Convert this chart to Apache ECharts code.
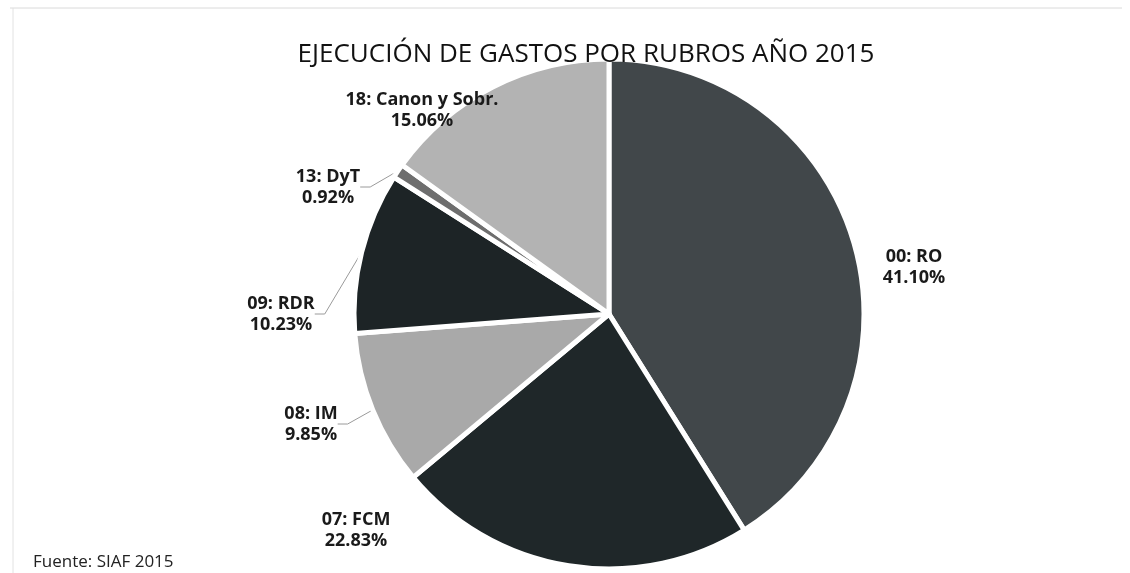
<!DOCTYPE html>
<html lang="es">
<head>
    <meta charset="UTF-8">
    <title>Ejecución de gastos por rubros 2015</title>
    <script src="https://cdn.jsdelivr.net/npm/echarts@6/dist/echarts.min.js"></script>
    <style>
        html, body { margin: 0; padding: 0; background: #fff; }
        #chart { width: 1130px; height: 573px; }
    </style>
</head>
<body>
    <div id="chart"></div>
    <script>
        // datos (porcentajes)
        const rubros = ['00: RO', '07: FCM', '08: IM', '09: RDR', '13: DyT', '18: Canon y Sobr.'];
        const porcentajes = [41.10, 22.83, 9.85, 10.23, 0.92, 15.06];
        const colores = ['#41474a', '#1f2729', '#a9a9a9', '#1d2426', '#6e6e6e', '#b3b3b3'];
        const sinLinea = ['00: RO', '07: FCM'];

        // dónde Excel dejó cada etiqueta (centro del texto)
        const posEtiqueta = {
            '00: RO': [914, 267],
            '07: FCM': [356, 530],
            '08: IM': [311, 424],
            '09: RDR': [281, 314],
            '13: DyT': [328, 187],
            '18: Canon y Sobr.': [422, 110]
        };

        const chart = echarts.init(document.getElementById('chart'));

        const data = rubros.map((name, i) => ({
            name: name,
            value: porcentajes[i],
            itemStyle: { color: colores[i] },
            labelLine: { show: !sinLinea.includes(name) }
        }));

        chart.setOption({
            animation: false,
            title: {
                text: 'EJECUCIÓN DE GASTOS POR RUBROS AÑO 2015',
                left: 581,
                top: 37,
                textAlign: 'center',
                textStyle: {
                    fontFamily: 'Open Sans',
                    fontWeight: 'normal',
                    fontSize: 26,
                    color: '#111'
                }
            },
            graphic: [{
                type: 'text',
                left: 33,
                top: 554,
                style: {
                    text: 'Fuente: SIAF 2015',
                    font: '17px "Open Sans"',
                    fill: '#222'
                }
            }, {
                type: 'line',
                shape: { x1: 10, y1: 8, x2: 1122, y2: 8 },
                style: { stroke: '#dadada', lineWidth: 1 }
            }, {
                type: 'line',
                shape: { x1: 13, y1: 8, x2: 13, y2: 573 },
                style: { stroke: '#e2e2e2', lineWidth: 1 }
            }],
            series: [{
                type: 'pie',
                center: [609, 314],
                radius: 255,
                startAngle: 90,
                clockwise: true,
                data: data,
                itemStyle: {
                    borderColor: '#fff',
                    borderWidth: 5
                },
                label: {
                    show: true,
                    position: 'outside',
                    formatter: p => p.name + '\n' + p.value.toFixed(2) + '%',
                    fontFamily: 'Open Sans',
                    fontWeight: 'bold',
                    fontSize: 18,
                    lineHeight: 21,
                    color: '#1a1a1a',
                    align: 'center'
                },
                labelLine: {
                    length: 8,
                    length2: 10,
                    lineStyle: { color: '#9a9a9a', width: 1 }
                },
                labelLayout: function (params) {
                    const p = posEtiqueta[rubros[params.dataIndex]];
                    return {
                        x: p[0],
                        y: p[1],
                        align: 'center',
                        verticalAlign: 'middle'
                    };
                }
            }]
        });
    </script>
</body>
</html>
